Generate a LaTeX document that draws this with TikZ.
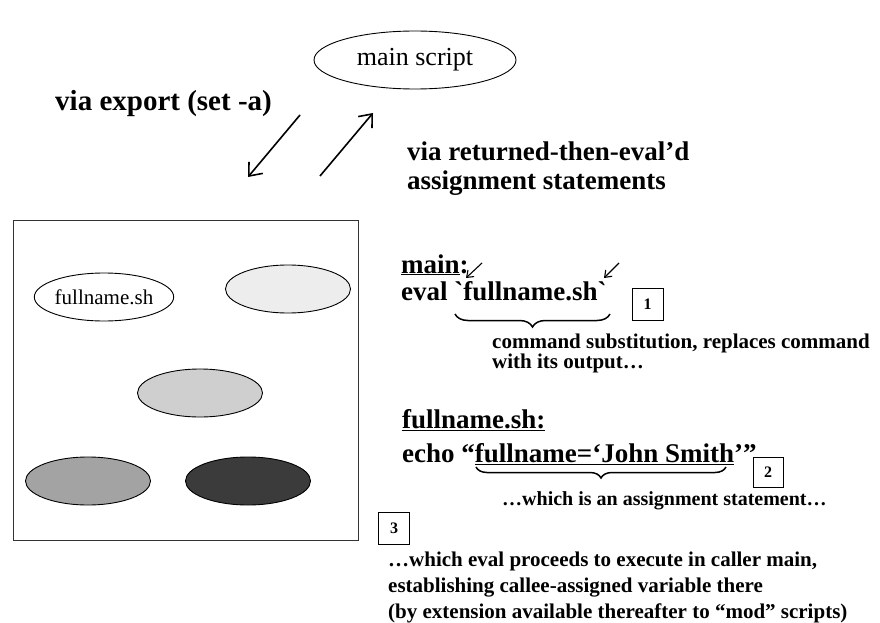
\documentclass[tikz,border=0pt]{standalone}
\usepackage{fontspec}
\defaultfontfeatures[\rmfamily]{}
\setmainfont{Liberation Serif}
\usetikzlibrary{shapes.geometric,arrows.meta,decorations.pathreplacing}

\begin{document}
\begin{tikzpicture}[x=1pt,y=-1pt,
        blob/.style={ellipse,draw,line width=0.9pt,minimum width=125pt,minimum height=48pt,inner sep=0pt},
        numbox/.style={draw,line width=0.9pt,minimum width=31pt,minimum height=32pt,inner sep=0pt,font=\fontsize{16}{18}\selectfont\bfseries},
        headtxt/.style={anchor=base west,inner sep=0pt,font=\fontsize{27}{32}\selectfont\bfseries},
        notetxt/.style={anchor=base west,inner sep=0pt,font=\fontsize{21}{24}\selectfont\bfseries},
        bigarrow/.style={-{Straight Barb[length=11pt,width=18pt]},line width=1.6pt},
        smallarrow/.style={-{Straight Barb[length=6pt,width=9pt]},line width=1.1pt},
        bracket/.style={decorate,decoration={brace,mirror,amplitude=13pt},line width=1.5pt}]
        \useasboundingbox (0,0) rectangle (880,623);
        \node[blob,minimum width=202pt,minimum height=58pt,font=\fontsize{26}{30}\selectfont] (mainscript) at (415,60) {main script};
        \coordinate (dnA) at (300,115);
        \coordinate (dnB) at (248,177);
        \coordinate (upA) at (320,176);
        \coordinate (upB) at (373,113);
        \draw[bigarrow] (dnA) -- (dnB);
        \draw[bigarrow] (upA) -- (upB);
        \node[headtxt,font=\fontsize{29}{32}\selectfont\bfseries] (viaexport) at (55,111) {via export (set -a)};
        \node[headtxt] (viareturn) at (407,160) {via returned-then-eval’d};
        \node[headtxt] (viaassign) at (407,189) {assignment statements};
        \draw[line width=1pt,draw=black!80] (13,220) rectangle (358,540);
        \node[blob,font=\fontsize{21}{24}\selectfont] (fnblob) at (104,297) {fullname.sh};
        \foreach \x/\y/\c/\n in {288/289/black!7/blobA,200/393/black!19/blobB,88/481/black!36/blobC,248/481/black!77/blobD}{
            \node[blob,fill=\c] (\n) at (\x,\y) {};
        }
        \node[headtxt] (mainlbl) at (401,273) {\underline{main}:};
        \node[headtxt] (evalline) at (401,300) {eval `fullname.sh`};
        \coordinate (tickA) at (482,263);
        \coordinate (tickB) at (466,278);
        \coordinate (tickC) at (619,263);
        \coordinate (tickD) at (604,278);
        \draw[smallarrow] (tickA) -- (tickB);
        \draw[smallarrow] (tickC) -- (tickD);
        \node[numbox] (one) at (647.5,304.5) {1};
        \coordinate (brA) at (455,314);
        \coordinate (brB) at (610,314);
        \draw[bracket] (brA) -- (brB);
        \node[notetxt] (subst) at (492,348) {command substitution, replaces command};
        \node[notetxt] (substb) at (492,368) {with its output…};
        \node[headtxt] (fnlbl) at (402,428) {\underline{fullname.sh:}};
        \node[headtxt] (echoline) at (402,462) {echo “\underline{fullname=‘John Smith}’”};
        \node[numbox,minimum width=30pt,minimum height=30pt] (two) at (768,472) {2};
        \coordinate (brC) at (476,467);
        \coordinate (brD) at (726,467);
        \draw[bracket,decoration={amplitude=11pt}] (brC) -- (brD);
        \node[notetxt,font=\fontsize{20}{24}\selectfont\bfseries] (assignnote) at (502,505) {…which is an assignment statement…};
        \node[numbox] (three) at (394,528) {3};
        \foreach \t/\y/\n in {{…which eval proceeds to execute in caller main,}/566/evalA,{establishing callee-assigned variable there}/592/evalB,{(by extension available thereafter to “mod” scripts)}/618/evalC}{
            \node[notetxt] (\n) at (388,\y) {\t};
        }
\end{tikzpicture}
\end{document}
